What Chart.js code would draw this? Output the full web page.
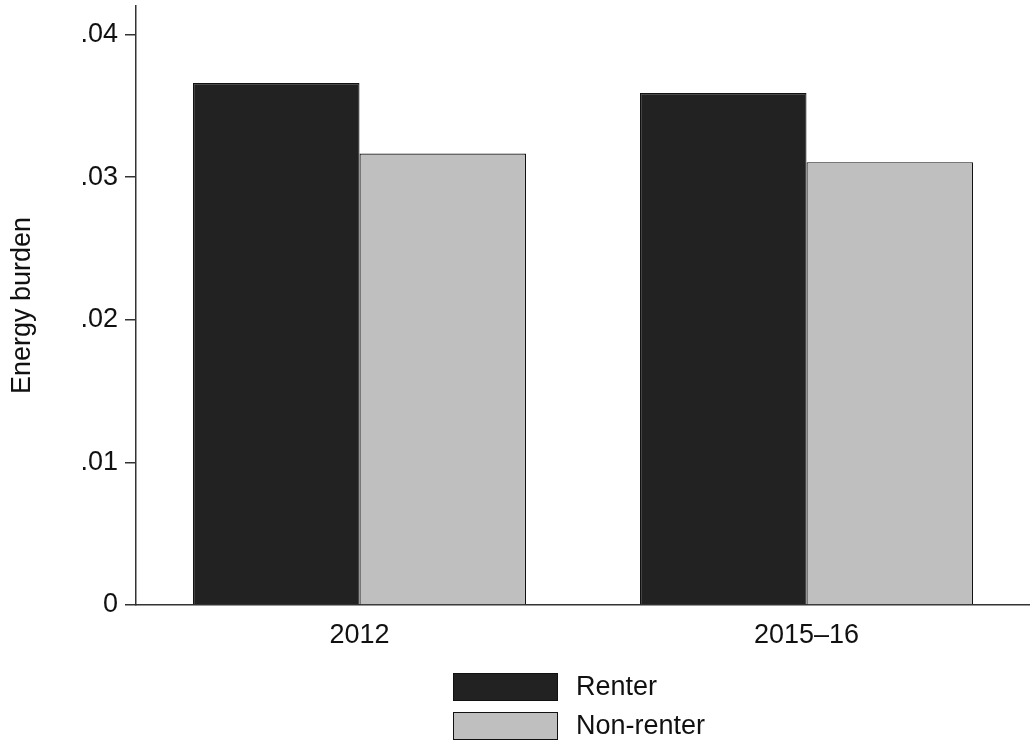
<!DOCTYPE html>
<html>
<head>
<meta charset="utf-8">
<script src="https://cdn.jsdelivr.net/npm/chart.js@4"></script>
<style>
    html, body { margin: 0; padding: 0; background: #fff; }
    #wrap { position: relative; width: 1030px; height: 745px; }
    #legend { position: absolute; left: 453px; top: 667px; font-family: "Liberation Sans", Arial, sans-serif; font-size: 27px; color: #111; }
    .item { display: flex; align-items: center; height: 39px; }
    .box { width: 103px; height: 26px; border: 1px solid #111; margin-right: 18px; }
</style>
</head>
<body>
<div id="wrap">
    <canvas id="chart" width="1030" height="745"></canvas>
    <div id="legend"></div>
</div>
<script>
const categories = ['2012', '2015\u201316'];
const seriesNames = ['Renter', 'Non-renter'];
const renter = [0.0366, 0.0359];
const nonRenter = [0.03165, 0.03105];
const yTicks = [0, 0.01, 0.02, 0.03, 0.04];
const yTickLabels = ['0', '.01', '.02', '.03', '.04'];

const fills = ['#222222', '#bfbfbf'];
const FONT = '"Liberation Sans", Arial, sans-serif';

const chart = new Chart(document.getElementById('chart'), {
    type: 'bar',
    data: {
        labels: categories,
        datasets: [
            { label: seriesNames[0], data: renter, backgroundColor: fills[0], borderColor: '#111', borderWidth: 1.2 },
            { label: seriesNames[1], data: nonRenter, backgroundColor: fills[1], borderColor: '#111', borderWidth: 1.2 }
        ]
    },
    options: {
        responsive: false,
        animation: false,
        layout: { padding: { top: 6, right: 0, bottom: 0, left: 0 } },
        datasets: { bar: { categoryPercentage: 0.745, barPercentage: 1 } },
        plugins: { legend: { display: false }, tooltip: { enabled: false } },
        scales: {
            x: {
                grid: { display: false },
                border: { display: true, color: '#333', width: 1.5 },
                ticks: { color: '#111', font: { family: FONT, size: 27 }, padding: 6 },
                afterFit: s => { s.height = 140; }
            },
            y: {
                min: 0,
                max: 0.042,
                afterBuildTicks: s => { s.ticks = yTicks.map(v => ({ value: v })); },
                grid: { drawOnChartArea: false, drawTicks: true, tickLength: 11, color: '#333', lineWidth: 1.5 },
                border: { display: true, color: '#333', width: 1.5 },
                ticks: {
                    color: '#111',
                    font: { family: FONT, size: 27 },
                    padding: 7,
                    callback: (v, i) => yTickLabels[i]
                },
                title: {
                    display: true,
                    text: 'Energy burden',
                    color: '#111',
                    font: { family: FONT, size: 27 },
                    padding: { top: 6, bottom: 0 }
                },
                afterFit: s => {
                    s.width = 136;
                    s.paddingTop = 0;
                    s.paddingBottom = 0;
                }
            }
        }
    }
});

// legend: one row per series, stacked
const legend = document.getElementById('legend');
chart.data.datasets.forEach(ds => {
    const row = document.createElement('div');
    row.className = 'item';
    const box = document.createElement('span');
    box.className = 'box';
    box.style.background = ds.backgroundColor;
    const txt = document.createElement('span');
    txt.textContent = ds.label;
    row.appendChild(box);
    row.appendChild(txt);
    legend.appendChild(row);
});
</script>
</body>
</html>
